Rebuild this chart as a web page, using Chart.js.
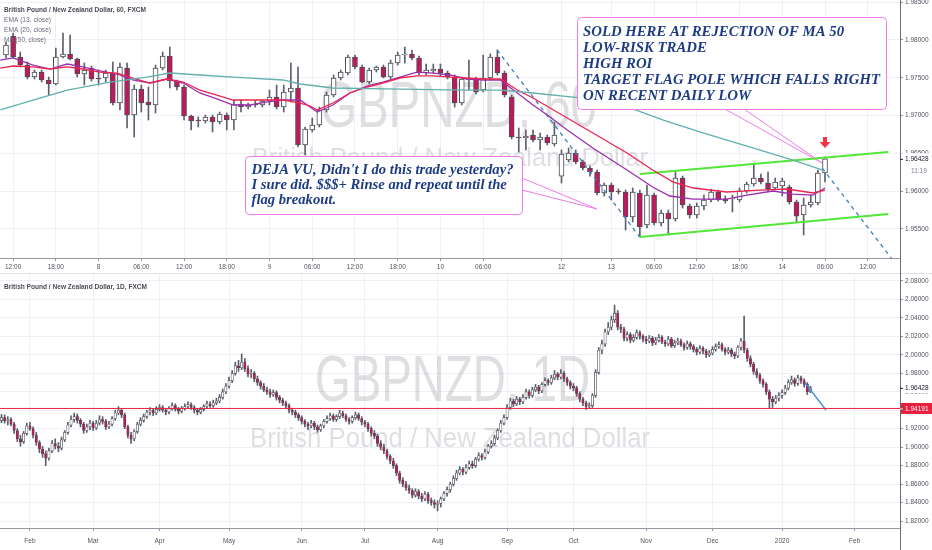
<!DOCTYPE html>
<html lang="en">
<head>
<meta charset="UTF-8">
<title>GBPNZD 60 / 1D</title>
<style>
  body { margin: 0; background: #fff; width: 932px; height: 550px; overflow: hidden; position: relative; }
  .pane { position: absolute; left: 0; width: 932px; }
  #topPane { top: 0; height: 273px; }
  #bottomPane { top: 273px; height: 277px; }
</style>
</head>
<body>
<div class="pane" id="topPane"><canvas id="hourChart"></canvas></div>
<div class="pane" id="bottomPane"><canvas id="dayChart"></canvas></div>

<script src="https://cdn.jsdelivr.net/npm/chart.js"></script>
<script>
// ---------- hourly chart data: [open, high, low, close] ----------
const hourCandles = [
  [1.97801,1.97973,1.97762,1.97934],[1.98053,1.98092,1.97762,1.97775],[1.97775,1.97841,1.97643,1.97669],[1.97669,1.97709,1.97484,1.97510],
  [1.97510,1.97603,1.97484,1.97576],[1.97576,1.97603,1.97444,1.97471],[1.97471,1.97510,1.97272,1.97418],[1.97418,1.97894,1.97404,1.97775],
  [1.97775,1.98092,1.97762,1.97815],[1.97815,1.98066,1.97735,1.97748],[1.97748,1.97762,1.97510,1.97550],[1.97550,1.97696,1.97404,1.97603],
  [1.97629,1.97656,1.97457,1.97484],[1.97497,1.97603,1.97404,1.97484],[1.97497,1.97603,1.97444,1.97563],[1.97563,1.97709,1.97140,1.97166],
  [1.97166,1.97696,1.97074,1.97643],[1.97629,1.97696,1.96836,1.97008],[1.97008,1.97404,1.96717,1.97351],[1.97351,1.97404,1.97047,1.97166],
  [1.97180,1.97378,1.96941,1.97140],[1.97140,1.97669,1.97034,1.97629],[1.97629,1.97841,1.97603,1.97788],[1.97788,1.97907,1.97365,1.97457],
  [1.97457,1.97471,1.97338,1.97378],[1.97378,1.97404,1.96941,1.96994],[1.96994,1.97008,1.96809,1.96928],[1.96941,1.96981,1.96849,1.96928],
  [1.96928,1.97008,1.96902,1.96981],[1.96981,1.97008,1.96783,1.96915],[1.96915,1.97047,1.96889,1.97021],[1.97008,1.97034,1.96809,1.96941],
  [1.96941,1.97206,1.96809,1.97153],[1.97153,1.97206,1.97047,1.97113],[1.97113,1.97166,1.97087,1.97140],[1.97153,1.97193,1.97113,1.97140],
  [1.97140,1.97206,1.97113,1.97193],[1.97193,1.97338,1.97140,1.97246],[1.97246,1.97404,1.97087,1.97113],[1.97113,1.97404,1.97047,1.97312],
  [1.97312,1.97696,1.97180,1.97365],[1.97365,1.97643,1.96584,1.96611],[1.96611,1.96849,1.96478,1.96822],[1.96809,1.96968,1.96783,1.96875],
  [1.96875,1.97113,1.96849,1.97074],[1.97074,1.97312,1.97047,1.97272],[1.97272,1.97537,1.97246,1.97497],[1.97497,1.97603,1.97471,1.97576],
  [1.97563,1.97801,1.97537,1.97775],[1.97775,1.97801,1.97616,1.97643],[1.97643,1.97669,1.97431,1.97444],[1.97444,1.97629,1.97418,1.97603],
  [1.97603,1.97656,1.97576,1.97643],[1.97643,1.97669,1.97497,1.97510],[1.97510,1.97735,1.97484,1.97696],[1.97696,1.97841,1.97669,1.97801],
  [1.97801,1.97907,1.97696,1.97815],[1.97815,1.97868,1.97735,1.97762],[1.97762,1.97788,1.97537,1.97563],[1.97563,1.97682,1.97537,1.97603],
  [1.97590,1.97682,1.97563,1.97616],[1.97616,1.97682,1.97524,1.97563],[1.97563,1.97590,1.97484,1.97510],[1.97510,1.97537,1.97113,1.97166],
  [1.97166,1.97510,1.97140,1.97484],[1.97471,1.97735,1.97338,1.97484],[1.97484,1.97510,1.97285,1.97312],[1.97338,1.97801,1.97312,1.97497],
  [1.97497,1.97815,1.97471,1.97775],[1.97775,1.97868,1.97537,1.97563],[1.97563,1.97590,1.97246,1.97272],[1.97246,1.97272,1.96690,1.96717],
  [1.96717,1.96836,1.96518,1.96703],[1.96703,1.96809,1.96545,1.96730],[1.96743,1.96809,1.96650,1.96677],[1.96677,1.96769,1.96545,1.96717],
  [1.96717,1.96743,1.96611,1.96637],[1.96624,1.96915,1.96597,1.96743],[1.96200,1.96545,1.96108,1.96492],[1.96412,1.96571,1.96386,1.96505],
  [1.96505,1.96545,1.96359,1.96386],[1.96386,1.96412,1.96280,1.96306],[1.96306,1.96333,1.96200,1.96254],[1.96254,1.96280,1.95949,1.95976],
  [1.95976,1.96108,1.95936,1.96081],[1.96081,1.96108,1.95883,1.95989],[1.96002,1.96029,1.95962,1.95989],[1.95989,1.96015,1.95486,1.95658],
  [1.95658,1.96042,1.95592,1.95989],[1.95976,1.96015,1.95394,1.95526],[1.95552,1.96081,1.95513,1.95949],[1.95949,1.95976,1.95552,1.95579],
  [1.95579,1.95751,1.95539,1.95711],[1.95711,1.95751,1.95420,1.95632],[1.95632,1.96254,1.95605,1.96174],[1.96174,1.96200,1.95777,1.95817],
  [1.95804,1.95830,1.95645,1.95685],[1.95685,1.95843,1.95645,1.95804],[1.95804,1.95949,1.95751,1.95883],[1.95883,1.96029,1.95857,1.95989],
  [1.95989,1.96015,1.95870,1.95883],[1.95896,1.95936,1.95843,1.95870],[1.95896,1.95949,1.95724,1.95909],[1.95883,1.96042,1.95857,1.96002],
  [1.96002,1.96121,1.95976,1.96095],[1.96095,1.96372,1.96068,1.96174],[1.96174,1.96227,1.96095,1.96121],[1.96108,1.96254,1.96002,1.96029],
  [1.96042,1.96174,1.96015,1.96121],[1.96068,1.96174,1.95936,1.96134],[1.96055,1.96081,1.95830,1.95857],[1.95857,1.95883,1.95592,1.95671],
  [1.95685,1.95909,1.95420,1.95817],[1.95817,1.95949,1.95790,1.95857],[1.95843,1.96280,1.95817,1.96240],[1.96240,1.96452,1.96121,1.96428]
];
// time axis labels: [bar index, text]
const hourTicks = [[1,'12:00'],[7,'18:00'],[13,'8'],[19,'06:00'],[25,'12:00'],[31,'18:00'],[37,'9'],[43,'06:00'],[49,'12:00'],
  [55,'18:00'],[61,'10'],[67,'06:00'],[78,'12'],[85,'13'],[91,'06:00'],[97,'12:00'],[103,'18:00'],[109,'14'],[115,'06:00'],[121,'12:00']];
const hourPriceTicks = [1.985, 1.98, 1.975, 1.97, 1.965, 1.96, 1.955];

// indicator lines: [bar index, price]
const ema13 = [[-0.8,1.97735],[1.0,1.97762],[3.8,1.97669],[6.2,1.97616],[8.6,1.97682],[10.8,1.97643],[13.2,1.97590],[15.6,1.97550],
  [17.8,1.97471],[20.2,1.97431],[22.6,1.97484],[24.9,1.97431],[27.2,1.97299],[29.6,1.97220],[31.9,1.97140],[34.3,1.97140],[36.7,1.97180],
  [38.9,1.97206],[41.3,1.97206],[42.7,1.97113],[43.7,1.97047],[45.9,1.97140],[48.3,1.97299],[50.7,1.97391],[52.9,1.97444],[55.3,1.97510],
  [57.7,1.97576],[60.0,1.97563],[62.3,1.97537],[64.7,1.97484],[67.0,1.97471],[69.4,1.97471],[71.8,1.97299],[74.0,1.97140],[76.4,1.96981],
  [78.8,1.96809],[82.4,1.96571],[87.2,1.96280],[90.8,1.96055],[93.2,1.95936],[96.5,1.95896],[101.2,1.95896],[104.0,1.95949],[107.7,1.96002],
  [110.5,1.95962],[113.3,1.95949],[115.0,1.96042]];
const ema20 = [[-0.8,1.97629],[1.0,1.97656],[3.8,1.97643],[6.2,1.97616],[8.6,1.97643],[10.8,1.97616],[13.2,1.97576],[15.6,1.97563],
  [17.8,1.97497],[20.2,1.97431],[22.6,1.97484],[24.9,1.97444],[27.2,1.97338],[29.6,1.97272],[31.9,1.97206],[34.3,1.97206],[36.7,1.97206],
  [38.9,1.97206],[41.3,1.97166],[42.7,1.97127],[43.7,1.97074],[45.9,1.97166],[48.3,1.97299],[50.7,1.97378],[52.9,1.97431],[55.3,1.97497],
  [57.7,1.97524],[60.0,1.97524],[62.3,1.97510],[64.7,1.97497],[67.0,1.97484],[69.4,1.97484],[71.8,1.97338],[74.0,1.97233],[76.4,1.97100],
  [78.8,1.96968],[82.4,1.96769],[87.2,1.96505],[90.8,1.96280],[93.7,1.96121],[96.5,1.96042],[101.2,1.95989],[105.9,1.96015],[109.7,1.96029],
  [113.3,1.95976],[115.0,1.96015]];
const ma50 = [[-0.8,1.97074],[3.8,1.97206],[8.6,1.97338],[14.6,1.97444],[19.8,1.97510],[23.0,1.97563],[27.2,1.97537],[31.9,1.97510],
  [38.9,1.97471],[41.3,1.97418],[45.9,1.97365],[55.3,1.97351],[64.7,1.97338],[69.4,1.97338],[74.0,1.97299],[80.6,1.97233],[86.2,1.97153],
  [92.3,1.96941],[97.4,1.96783],[104.5,1.96584],[110.5,1.96412],[114.7,1.96280]];

// drawings on the hourly chart: [bar index, price]
const flagUpper = [[89.0,1.96227],[123.9,1.96518]];
const flagLower = [[89.0,1.95394],[123.9,1.95698]];
const poleLine = [[68.95,1.97868],[89.0,1.95394]];
const targetLine = [[114.6,1.96306],[124.3,1.95116]];
const soldPointer = [[[100.95,1.97087],[114.6,1.96372]], [[103.6,1.97087],[114.6,1.96372]]];
const dejaPointer = [[[72.45,1.96174],[82.98,1.95764]], [[72.45,1.96015],[82.98,1.95764]]];
const sellArrow = [115, 1.96571];
const hourLast = 1.96428;
const hourCountdown = '11:19';
const soldNote = ['SOLD HERE AT REJECTION OF MA 50', 'LOW-RISK TRADE', 'HIGH ROI', 'TARGET FLAG POLE WHICH FALLS RIGHT', 'ON RECENT DAILY LOW'];
const dejaNote = ["DEJA VU, Didn't I do this trade yesterday?", 'I sure did. $$$+ Rinse and repeat until the', 'flag breakout.'];

// ---------- daily chart data: [open, high, low, close], 21 Jan 2019 .. 14 Jan 2020 ----------
const dayCandles = [
  [1.9290,1.9355,1.9265,1.9320],[1.9320,1.9350,1.9260,1.9285],[1.9285,1.9330,1.9240,1.9300],[1.9300,1.9320,1.9230,1.9250],
  [1.9250,1.9270,1.9150,1.9180],[1.9180,1.9200,1.9060,1.9090],[1.9090,1.9130,1.9010,1.9060],[1.9060,1.9170,1.9040,1.9150],
  [1.9150,1.9260,1.9130,1.9230],[1.9230,1.9270,1.9180,1.9200],[1.9200,1.9220,1.9100,1.9130],[1.9130,1.9160,1.9020,1.9050],
  [1.9050,1.9070,1.8940,1.8980],[1.8980,1.9010,1.8890,1.8930],[1.8930,1.8960,1.8800,1.8880],[1.8880,1.8990,1.8860,1.8960],
  [1.8960,1.9070,1.8940,1.9040],[1.9040,1.9090,1.8980,1.9010],[1.9010,1.9050,1.8950,1.8990],[1.8990,1.9110,1.8970,1.9080],
  [1.9080,1.9180,1.9060,1.9160],[1.9160,1.9270,1.9140,1.9240],[1.9240,1.9340,1.9220,1.9300],[1.9300,1.9370,1.9270,1.9330],
  [1.9330,1.9360,1.9260,1.9290],[1.9290,1.9310,1.9220,1.9250],[1.9250,1.9270,1.9150,1.9180],[1.9180,1.9250,1.9160,1.9220],
  [1.9220,1.9290,1.9190,1.9260],[1.9260,1.9280,1.9180,1.9210],[1.9210,1.9290,1.9190,1.9260],[1.9260,1.9340,1.9240,1.9300],
  [1.9300,1.9330,1.9250,1.9280],[1.9280,1.9300,1.9190,1.9220],[1.9220,1.9280,1.9200,1.9250],[1.9250,1.9330,1.9230,1.9310],
  [1.9310,1.9400,1.9290,1.9370],[1.9370,1.9440,1.9350,1.9400],[1.9400,1.9420,1.9320,1.9350],[1.9350,1.9370,1.9200,1.9220],
  [1.9220,1.9240,1.9100,1.9130],[1.9130,1.9160,1.9040,1.9090],[1.9090,1.9190,1.9070,1.9170],[1.9170,1.9270,1.9150,1.9250],
  [1.9250,1.9320,1.9230,1.9290],[1.9290,1.9360,1.9270,1.9330],[1.9330,1.9400,1.9310,1.9380],[1.9380,1.9430,1.9350,1.9400],
  [1.9400,1.9420,1.9340,1.9370],[1.9370,1.9440,1.9350,1.9410],[1.9410,1.9460,1.9390,1.9430],[1.9430,1.9450,1.9380,1.9400],
  [1.9400,1.9420,1.9350,1.9380],[1.9380,1.9440,1.9360,1.9420],[1.9420,1.9480,1.9400,1.9450],[1.9450,1.9470,1.9390,1.9410],
  [1.9410,1.9430,1.9360,1.9390],[1.9390,1.9440,1.9370,1.9420],[1.9420,1.9470,1.9400,1.9440],[1.9440,1.9490,1.9420,1.9460],
  [1.9460,1.9480,1.9410,1.9430],[1.9430,1.9450,1.9370,1.9400],[1.9400,1.9420,1.9350,1.9380],[1.9380,1.9430,1.9360,1.9410],
  [1.9410,1.9460,1.9390,1.9440],[1.9440,1.9500,1.9420,1.9470],[1.9470,1.9490,1.9430,1.9450],[1.9450,1.9510,1.9430,1.9480],
  [1.9480,1.9530,1.9460,1.9500],[1.9500,1.9570,1.9480,1.9540],[1.9540,1.9630,1.9520,1.9600],[1.9600,1.9690,1.9580,1.9660],
  [1.9660,1.9760,1.9640,1.9720],[1.9720,1.9830,1.9700,1.9800],[1.9800,1.9920,1.9780,1.9880],[1.9880,1.9940,1.9820,1.9860],
  [1.9860,2.0010,1.9840,1.9920],[1.9920,1.9960,1.9820,1.9850],[1.9850,1.9880,1.9760,1.9790],[1.9790,1.9840,1.9750,1.9800],
  [1.9800,1.9820,1.9710,1.9740],[1.9740,1.9770,1.9670,1.9700],[1.9700,1.9720,1.9630,1.9660],[1.9660,1.9690,1.9600,1.9620],
  [1.9620,1.9650,1.9570,1.9600],[1.9600,1.9630,1.9540,1.9570],[1.9570,1.9620,1.9550,1.9590],[1.9590,1.9610,1.9510,1.9540],
  [1.9540,1.9560,1.9480,1.9510],[1.9510,1.9530,1.9450,1.9480],[1.9480,1.9500,1.9420,1.9450],[1.9450,1.9470,1.9370,1.9400],
  [1.9400,1.9420,1.9350,1.9380],[1.9380,1.9400,1.9320,1.9350],[1.9350,1.9370,1.9290,1.9320],[1.9320,1.9340,1.9250,1.9280],
  [1.9280,1.9300,1.9220,1.9250],[1.9250,1.9270,1.9190,1.9230],[1.9230,1.9290,1.9210,1.9260],[1.9260,1.9280,1.9190,1.9220],
  [1.9220,1.9240,1.9160,1.9190],[1.9190,1.9250,1.9170,1.9230],[1.9230,1.9300,1.9210,1.9280],[1.9280,1.9340,1.9260,1.9310],
  [1.9310,1.9370,1.9290,1.9340],[1.9340,1.9360,1.9280,1.9300],[1.9300,1.9350,1.9280,1.9330],[1.9330,1.9400,1.9310,1.9370],
  [1.9370,1.9390,1.9320,1.9340],[1.9340,1.9360,1.9280,1.9300],[1.9300,1.9320,1.9250,1.9280],[1.9280,1.9340,1.9260,1.9320],
  [1.9320,1.9380,1.9300,1.9350],[1.9350,1.9370,1.9290,1.9310],[1.9310,1.9330,1.9240,1.9270],[1.9270,1.9290,1.9220,1.9250],
  [1.9250,1.9270,1.9170,1.9200],[1.9200,1.9220,1.9120,1.9150],[1.9150,1.9180,1.9090,1.9120],[1.9120,1.9140,1.9010,1.9040],
  [1.9040,1.9070,1.8970,1.9000],[1.9000,1.9030,1.8930,1.8960],[1.8960,1.8980,1.8870,1.8900],[1.8900,1.8920,1.8820,1.8850],
  [1.8850,1.8880,1.8770,1.8800],[1.8800,1.8820,1.8690,1.8720],[1.8720,1.8740,1.8610,1.8640],[1.8640,1.8670,1.8570,1.8600],
  [1.8600,1.8630,1.8530,1.8560],[1.8560,1.8590,1.8500,1.8530],[1.8530,1.8550,1.8450,1.8480],[1.8480,1.8550,1.8460,1.8520],
  [1.8520,1.8540,1.8440,1.8470],[1.8470,1.8500,1.8410,1.8440],[1.8440,1.8520,1.8420,1.8490],[1.8490,1.8510,1.8390,1.8420],
  [1.8420,1.8450,1.8370,1.8400],[1.8400,1.8430,1.8340,1.8380],[1.8380,1.8420,1.8310,1.8390],[1.8390,1.8460,1.8350,1.8440],
  [1.8440,1.8520,1.8420,1.8500],[1.8500,1.8570,1.8470,1.8540],[1.8540,1.8620,1.8510,1.8600],[1.8600,1.8690,1.8580,1.8660],
  [1.8660,1.8750,1.8640,1.8720],[1.8720,1.8790,1.8700,1.8760],[1.8760,1.8780,1.8700,1.8730],[1.8730,1.8810,1.8710,1.8780],
  [1.8780,1.8850,1.8760,1.8820],[1.8820,1.8850,1.8770,1.8800],[1.8800,1.8890,1.8780,1.8870],[1.8870,1.8940,1.8850,1.8910],
  [1.8910,1.8930,1.8860,1.8890],[1.8890,1.8980,1.8870,1.8950],[1.8950,1.9030,1.8930,1.9010],[1.9010,1.9070,1.8990,1.9040],
  [1.9040,1.9130,1.9020,1.9100],[1.9100,1.9200,1.9080,1.9180],[1.9180,1.9290,1.9160,1.9260],[1.9260,1.9350,1.9240,1.9320],
  [1.9320,1.9460,1.9300,1.9430],[1.9430,1.9530,1.9410,1.9500],[1.9500,1.9520,1.9440,1.9470],[1.9470,1.9550,1.9450,1.9520],
  [1.9520,1.9540,1.9460,1.9490],[1.9490,1.9570,1.9470,1.9540],[1.9540,1.9630,1.9520,1.9600],[1.9600,1.9620,1.9530,1.9560],
  [1.9560,1.9650,1.9540,1.9620],[1.9620,1.9680,1.9600,1.9650],[1.9650,1.9670,1.9580,1.9610],[1.9610,1.9700,1.9590,1.9680],
  [1.9680,1.9750,1.9660,1.9720],[1.9720,1.9740,1.9670,1.9700],[1.9700,1.9780,1.9680,1.9750],[1.9750,1.9830,1.9730,1.9790],
  [1.9790,1.9810,1.9730,1.9760],[1.9760,1.9840,1.9740,1.9800],[1.9800,1.9820,1.9710,1.9740],[1.9740,1.9760,1.9670,1.9700],
  [1.9700,1.9720,1.9630,1.9660],[1.9660,1.9690,1.9610,1.9640],[1.9640,1.9660,1.9550,1.9580],[1.9580,1.9600,1.9490,1.9520],
  [1.9520,1.9540,1.9450,1.9480],[1.9480,1.9500,1.9410,1.9440],[1.9440,1.9480,1.9418,1.9450],[1.9450,1.9580,1.9430,1.9560],
  [1.9560,1.9840,1.9540,1.9810],[1.9810,2.0080,1.9790,2.0050],[2.0050,2.0160,2.0010,2.0120],[2.0120,2.0280,2.0090,2.0250],
  [2.0250,2.0350,2.0220,2.0300],[2.0300,2.0420,2.0270,2.0380],[2.0380,2.0540,2.0350,2.0450],[2.0450,2.0480,2.0270,2.0300],
  [2.0300,2.0330,2.0240,2.0280],[2.0280,2.0300,2.0150,2.0180],[2.0180,2.0250,2.0150,2.0220],[2.0220,2.0240,2.0130,2.0160],
  [2.0160,2.0220,2.0140,2.0190],[2.0190,2.0270,2.0170,2.0240],[2.0240,2.0260,2.0170,2.0200],[2.0200,2.0220,2.0140,2.0170],
  [2.0170,2.0200,2.0120,2.0150],[2.0150,2.0210,2.0130,2.0180],[2.0180,2.0200,2.0100,2.0130],[2.0130,2.0190,2.0110,2.0160],
  [2.0160,2.0220,2.0140,2.0190],[2.0190,2.0210,2.0120,2.0140],[2.0140,2.0160,2.0090,2.0120],[2.0120,2.0200,2.0100,2.0170],
  [2.0170,2.0190,2.0080,2.0100],[2.0100,2.0160,2.0080,2.0130],[2.0130,2.0180,2.0110,2.0150],[2.0150,2.0170,2.0090,2.0110],
  [2.0110,2.0130,2.0050,2.0080],[2.0080,2.0150,2.0060,2.0120],[2.0120,2.0140,2.0060,2.0090],[2.0090,2.0110,2.0030,2.0060],
  [2.0060,2.0080,2.0000,2.0030],[2.0030,2.0100,2.0010,2.0070],[2.0070,2.0090,2.0010,2.0040],[2.0040,2.0060,1.9970,2.0000],
  [2.0000,2.0050,1.9980,2.0020],[2.0020,2.0090,2.0000,2.0060],[2.0060,2.0120,2.0040,2.0090],[2.0090,2.0140,2.0070,2.0110],
  [2.0110,2.0130,2.0040,2.0060],[2.0060,2.0080,2.0000,2.0030],[2.0030,2.0080,2.0010,2.0050],[2.0050,2.0070,1.9980,2.0010],
  [2.0010,2.0030,1.9960,1.9990],[1.9990,2.0100,1.9970,2.0080],[2.0080,2.0180,2.0050,2.0150],[2.0150,2.0420,2.0020,2.0050],
  [2.0050,2.0070,1.9930,1.9960],[1.9960,1.9990,1.9870,1.9900],[1.9900,1.9920,1.9790,1.9820],[1.9820,1.9850,1.9750,1.9780],
  [1.9780,1.9800,1.9690,1.9720],[1.9720,1.9740,1.9650,1.9680],[1.9680,1.9700,1.9570,1.9600],[1.9600,1.9620,1.9419,1.9520],
  [1.9520,1.9550,1.9430,1.9490],[1.9490,1.9560,1.9470,1.9530],[1.9530,1.9590,1.9500,1.9560],[1.9560,1.9620,1.9530,1.9590],
  [1.9590,1.9670,1.9570,1.9640],[1.9640,1.9730,1.9620,1.9700],[1.9700,1.9770,1.9680,1.9730],[1.9730,1.9750,1.9660,1.9690],
  [1.9690,1.9780,1.9670,1.9750],[1.9750,1.9770,1.9690,1.9720],[1.9720,1.9740,1.9650,1.9680],[1.9680,1.9700,1.9570,1.9600],
  [1.9600,1.9660,1.9590,1.9643]
];
const dayTicks = [[9,'Feb'],[29,'Mar'],[50,'Apr'],[72,'May'],[95,'Jun'],[115,'Jul'],[138,'Aug'],[160,'Sep'],[181,'Oct'],
  [204,'Nov'],[225,'Dec'],[247,'2020'],[270,'Feb']];
const dayPriceTicks = [2.08, 2.06, 2.04, 2.02, 2.00, 1.98, 1.96, 1.94, 1.92, 1.90, 1.88, 1.86, 1.84, 1.82];
const dayLevel = 1.94191;
const dayProjection = [[254.3,1.96950],[260.9,1.94025]];
const dayLast = 1.96428;

// ---------- styling ----------
const FONT = "'Liberation Sans', Arial, sans-serif";
const GRID = '#edf1f7';
const AXIS_TEXT = '#50535e';
const WATERMARK = 'rgba(120,123,134,0.24)';
const NOTE_INK = '#1d3c85';
const UP_FILL = '#ffffff';
const DOWN_FILL = '#c2185b';

function candleSets(rows, bodyWidth, border) {
  return [
    {
      type: 'bar', order: 2, grouped: false, barThickness: bodyWidth,
      data: rows.map((r, i) => ({ x: i, y: [r[0], r[3]] })),
      backgroundColor: rows.map(r => r[3] >= r[0] ? UP_FILL : DOWN_FILL),
      borderColor: '#4b4d56', borderWidth: border, borderSkipped: false
    },
    {
      type: 'bar', order: 3, grouped: false, barThickness: 1,
      data: rows.map((r, i) => ({ x: i, y: [r[2], r[1]] })),
      backgroundColor: '#5d606b'
    }
  ];
}

function xyLine(points, color, width, dash) {
  return {
    type: 'line', order: 0, data: points.map(p => ({ x: p[0], y: p[1] })),
    borderColor: color, borderWidth: width, borderDash: dash || [],
    pointRadius: 0, tension: 0, fill: false
  };
}

function timeAxis(min, max, ticks, height, pad) {
  const names = new Map(ticks);
  return {
    type: 'linear', min: min, max: max, offset: false, bounds: 'data',
    grid: { color: GRID, offset: false, tickLength: 3, tickColor: '#9598a1' },
    border: { color: '#9598a1' },
    afterBuildTicks: s => { s.ticks = ticks.map(t => ({ value: t[0] })); },
    afterFit: s => { s.height = height; s.paddingLeft = 0; s.paddingRight = 0; },
    ticks: {
      autoSkip: false, maxRotation: 0, padding: pad, color: AXIS_TEXT,
      font: { family: FONT, size: 6.5 },
      callback: v => names.get(v) || ''
    }
  };
}

function priceAxis(min, max, ticks) {
  return {
    position: 'right', min: min, max: max, bounds: 'data', beginAtZero: false,
    grid: { color: GRID, tickLength: 3, tickColor: '#9598a1' },
    border: { color: '#6a6d78' },
    afterBuildTicks: s => { s.ticks = ticks.map(v => ({ value: v })); },
    afterFit: s => { s.width = 32; s.paddingTop = 0; s.paddingBottom = 0; },
    ticks: { padding: 2, color: AXIS_TEXT, font: { family: FONT, size: 6.5 }, callback: v => v.toFixed(5) }
  };
}

// text squeezed or stretched to a given width
function fitText(ctx, text, x, y, width, font, color) {
  ctx.save();
  ctx.font = font;
  ctx.fillStyle = color;
  ctx.textBaseline = 'alphabetic';
  const w = ctx.measureText(text).width;
  ctx.translate(x, y);
  ctx.scale(width / w, 1);
  ctx.fillText(text, 0, 0);
  ctx.restore();
}

function noteBox(ctx, bx, by, bw, bh, lines, tx, ty, lead, widest, size) {
  ctx.save();
  ctx.beginPath();
  if (ctx.roundRect) ctx.roundRect(bx + 0.5, by + 0.5, bw, bh, 4); else ctx.rect(bx + 0.5, by + 0.5, bw, bh);
  ctx.fillStyle = 'rgba(255,255,255,0.93)';
  ctx.fill();
  ctx.strokeStyle = '#f07be6';
  ctx.lineWidth = 1;
  ctx.stroke();
  ctx.font = "italic bold " + size + "px 'Liberation Serif', 'Times New Roman', serif";
  const k = widest / Math.max(...lines.map(l => ctx.measureText(l).width));
  ctx.fillStyle = NOTE_INK;
  lines.forEach((l, i) => {
    ctx.save();
    ctx.translate(tx, ty + i * lead);
    ctx.scale(k, 1);
    ctx.fillText(l, 0, 0);
    ctx.restore();
  });
  ctx.restore();
}

function axisLine(chart) {
  const ctx = chart.ctx, x = Math.round(chart.chartArea.right) + 0.5;
  ctx.save();
  ctx.strokeStyle = '#6a6d78';
  ctx.lineWidth = 1;
  ctx.beginPath(); ctx.moveTo(x, 0); ctx.lineTo(x, chart.height); ctx.stroke();
  ctx.restore();
}

function priceTag(chart, price, text, bg, fg) {
  const ctx = chart.ctx, x0 = Math.round(chart.chartArea.right);
  const yp = chart.scales.y.getPixelForValue(price);
  ctx.save();
  ctx.fillStyle = bg;
  ctx.fillRect(x0 + 1, yp - 5.5, chart.width - x0 - 1, 11);
  ctx.strokeStyle = fg;
  ctx.beginPath(); ctx.moveTo(x0, yp + 0.5); ctx.lineTo(x0 + 3, yp + 0.5); ctx.stroke();
  ctx.fillStyle = fg;
  ctx.font = '6.5px ' + FONT;
  ctx.textBaseline = 'middle';
  ctx.fillText(text, x0 + 5, yp + 0.5);
  ctx.restore();
  return yp;
}

const hourDecor = {
  id: 'hourDecor',
  beforeDatasetsDraw(chart) {
    const ctx = chart.ctx;
    fitText(ctx, 'GBPNZD, 60', 320, 127, 277, '64px ' + FONT, WATERMARK);
    fitText(ctx, 'British Pound / New Zealand Dollar', 252, 166, 396, '26px ' + FONT, WATERMARK);
  },
  afterDatasetsDraw(chart) {
    const ctx = chart.ctx, sx = chart.scales.x, sy = chart.scales.y;
    // red sell arrow above the breakout bar
    const ax = sx.getPixelForValue(sellArrow[0]), ay = sy.getPixelForValue(sellArrow[1]);
    ctx.save();
    ctx.fillStyle = '#f23645';
    ctx.fillRect(ax - 2, ay - 11, 4, 6);
    ctx.beginPath(); ctx.moveTo(ax - 5.5, ay - 6); ctx.lineTo(ax + 5.5, ay - 6); ctx.lineTo(ax, ay); ctx.closePath(); ctx.fill();
    ctx.restore();

    noteBox(ctx, 577, 17, 309, 92, soldNote, 583, 36, 16, 297, 15);
    noteBox(ctx, 245, 156, 277, 58, dejaNote, 251.5, 173.5, 15.3, 262, 14.5);

    fitText(ctx, 'British Pound / New Zealand Dollar, 60, FXCM', 4, 12, 142, '600 8px ' + FONT, '#4a4c55');
    fitText(ctx, 'EMA (13, close)', 4, 22, 47, '8px ' + FONT, '#6a6d78');
    fitText(ctx, 'EMA (20, close)', 4, 32, 47, '8px ' + FONT, '#6a6d78');
    fitText(ctx, 'MA (50, close)', 4, 42, 42, '8px ' + FONT, '#6a6d78');
  },
  afterDraw(chart) {
    axisLine(chart);
    const yp = priceTag(chart, hourLast, hourLast.toFixed(5), '#ffffff', '#131722');
    const ctx = chart.ctx;
    ctx.save();
    ctx.fillStyle = '#787b86';
    ctx.font = '6.5px ' + FONT;
    ctx.textBaseline = 'middle';
    ctx.fillText(hourCountdown, chart.chartArea.right + 11, yp + 12);
    ctx.restore();
  }
};

const dayDecor = {
  id: 'dayDecor',
  beforeDatasetsDraw(chart) {
    const ctx = chart.ctx;
    fitText(ctx, 'GBPNZD, 1D', 315, 128, 275, '64px ' + FONT, WATERMARK);
    fitText(ctx, 'British Pound / New Zealand Dollar', 250, 174, 400, '27px ' + FONT, WATERMARK);
  },
  afterDatasetsDraw(chart) {
    fitText(chart.ctx, 'British Pound / New Zealand Dollar, 1D, FXCM', 4, 16, 143, '600 8px ' + FONT, '#4a4c55');
  },
  afterDraw(chart) {
    const ctx = chart.ctx;
    ctx.save();
    ctx.strokeStyle = '#e0e3eb';
    ctx.beginPath(); ctx.moveTo(0, 0.5); ctx.lineTo(chart.width, 0.5); ctx.stroke();
    ctx.restore();
    axisLine(chart);
    priceTag(chart, dayLast, dayLast.toFixed(5), '#ffffff', '#131722');
    priceTag(chart, dayLevel, dayLevel.toFixed(5), '#e8203f', '#ffffff');
  }
};

const baseOptions = {
  responsive: true,
  maintainAspectRatio: false,
  animation: false,
  events: [],
  layout: { padding: 0 },
  plugins: { legend: { display: false }, tooltip: { enabled: false } }
};

new Chart(document.getElementById('hourChart'), {
  type: 'bar',
  data: {
    datasets: [
      xyLine(ma50, '#62b0ae', 1.3),
      xyLine(ema20, '#ec2652', 1.3),
      xyLine(ema13, '#9b2fae', 1.3),
      xyLine(flagUpper, '#54e63a', 2),
      xyLine(flagLower, '#54e63a', 2),
      xyLine(poleLine, '#3f7fbf', 1.3, [4, 4]),
      xyLine(targetLine, '#3f7fbf', 1.3, [4, 4]),
      ...soldPointer.map(p => xyLine(p, '#f07be6', 1)),
      ...dejaPointer.map(p => xyLine(p, '#f07be6', 1)),
      ...candleSets(hourCandles, 5, 1)
    ]
  },
  options: Object.assign({}, baseOptions, {
    scales: {
      x: timeAxis(-0.842, 125.53, hourTicks, 15, 2),
      y: priceAxis(1.95116, 1.98529, hourPriceTicks)
    }
  }),
  plugins: [hourDecor]
});

new Chart(document.getElementById('dayChart'), {
  type: 'bar',
  data: {
    datasets: [
      xyLine([[-1, dayLevel], [290, dayLevel]], '#e8203f', 1),
      xyLine(dayProjection, '#3d8bd9', 1.3),
      ...candleSets(dayCandles, 2.4, 0.7)
    ]
  },
  options: Object.assign({}, baseOptions, {
    scales: {
      x: timeAxis(-0.475, 284.33, dayTicks, 22, 6),
      y: priceAxis(1.81242, 2.08866, dayPriceTicks)
    }
  }),
  plugins: [dayDecor]
});
</script>
</body>
</html>
